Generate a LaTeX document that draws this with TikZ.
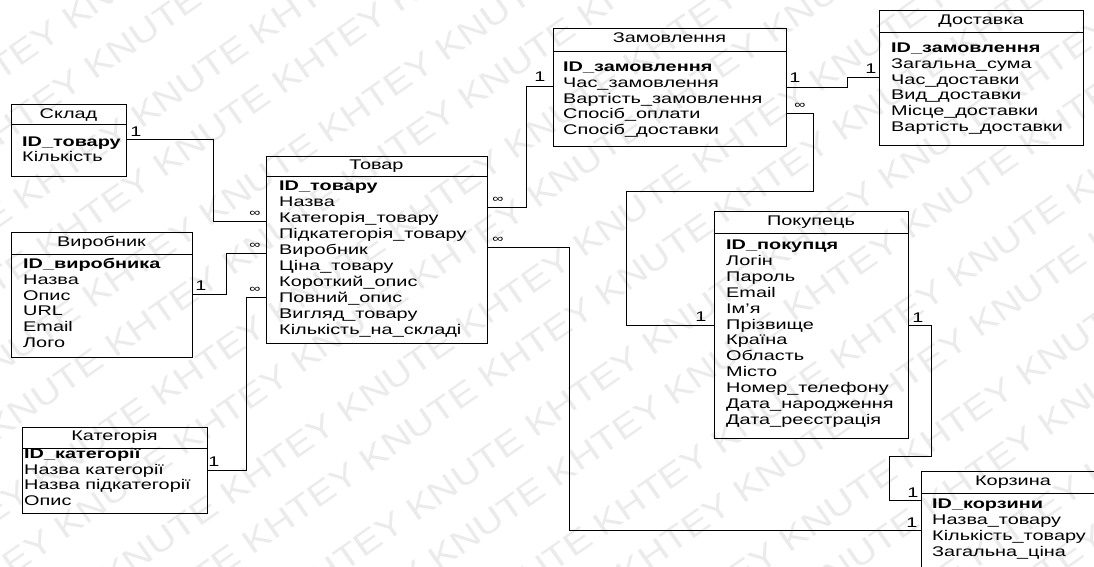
\documentclass[tikz,border=0pt]{standalone}
\usepackage{fontspec}
\setmainfont{Liberation Sans}[FakeStretch=1.42]
\newfontfamily\markfont{Liberation Sans}[FakeStretch=1.2]
\usetikzlibrary{calc}

\newcommand\bodysize{\fontsize{14}{16}\selectfont}

\tikzset{
  ent/.style={draw=black, line width=0.9pt, anchor=north west, inner sep=0pt, outer sep=0pt},
  ttl/.style={inner sep=0pt, text height=10pt, text depth=3pt},
  fld/.style={anchor=west, inner sep=0pt, text height=10pt, text depth=3pt},
  keyfld/.style={fld, font=\bodysize\bfseries},
  card/.style={inner sep=0pt, text height=10pt, text depth=0pt},
  many/.style={inner sep=0pt, font=\fontsize{11}{11}\selectfont},
  link/.style={draw=black, line width=0.9pt},
  wm/.style={text=black!8, font=\markfont\fontsize{33}{33}\selectfont,
             anchor=base west, inner sep=0pt, rotate=35}
}

% table box: name, left x, top y, width, height, title, title offset, separator offset
\newcommand\ertable[8]{%
  \node[ent, minimum width=#4pt, minimum height=#5pt] (#1) at (#2,#3) {};
  \node[ttl] (#1-title) at ($(#1.north)+(0,#7)$) {#6};
  \draw[link] ($(#1.north west)+(0,#8)$) -- ($(#1.north east)+(0,#8)$);
}
% table fields: name, text x, key row y, row step, key field, other fields
\newcommand\erfields[6]{%
  \node[keyfld] (#1-0) at (#2,#3) {#5};
  \foreach \f [count=\i] in {#6} \node[fld] (#1-\i) at (#2,{#3+\i*#4}) {\f};
}

\begin{document}
\begin{tikzpicture}[x=1pt, y=-1pt, font=\bodysize]
\useasboundingbox (0,0) rectangle (1094,567);
\clip (0,0) rectangle (1094,567);

% background watermark, diagonal rows
\foreach \k in {-1,...,20}
  \node[wm] at ({34.4*\k-327.6+12*mod(\k,2)},{49.1*\k+229.6})
    {KHTEY KNUTE KHTEY KNUTE KHTEY KNUTE KHTEY KNUTE KHTEY KNUTE};

% tables
\ertable{sklad}{11}{104}{115}{72}{Склад}{11}{20}
\erfields{sklad}{22}{143}{15}{ID\_товару}{Кількість}

\ertable{vyrobnyk}{11}{232}{181}{125}{Виробник}{11}{22}
\erfields{vyrobnyk}{23}{265}{15.8}{ID\_виробника}{Назва,Опис,URL,Email,Лого}

\ertable{katehoriia}{22}{427}{185}{86}{Категорія}{10}{21}
\erfields{katehoriia}{24}{455}{15.7}{ID\_категорії}{Назва категорії,Назва підкатегорії,Опис}

\ertable{tovar}{266}{156}{221}{187}{Товар}{10}{20}
\erfields{tovar}{279}{187}{16}{ID\_товару}{Назва,Категорія\_товару,Підкатегорія\_товару,Виробник,Ціна\_товару,Короткий\_опис,Повний\_опис,Вигляд\_товару,Кількість\_на\_складі}

\ertable{zamovlennia}{553}{28}{233}{118}{Замовлення}{11}{23}
\erfields{zamovlennia}{563}{68}{15.8}{ID\_замовлення}{Час\_замовлення,Вартість\_замовлення,Спосіб\_оплати,Спосіб\_доставки}

\ertable{dostavka}{879}{10}{204}{135}{Доставка}{11}{22}
\erfields{dostavka}{891}{49}{15.8}{ID\_замовлення}{Загальна\_сума,Час\_доставки,Вид\_доставки,Місце\_доставки,Вартість\_доставки}

\ertable{pokupets}{714}{211}{194}{227}{Покупець}{11}{22}
\erfields{pokupets}{726}{246}{15.9}{ID\_покупця}{Логін,Пароль,Email,Ім’я,Прізвище,Країна,Область,Місто,Номер\_телефону,Дата\_народження,Дата\_реєстрація}

\ertable{korzyna}{921}{471}{184}{130}{Корзина}{11}{22}
\erfields{korzyna}{932}{505}{16}{ID\_корзини}{Назва\_товару,Кількість\_товару,Загальна\_ціна}

% relationships
\draw[link] (sklad.east |- 0,139) -| (213,221) -- (tovar.west |- 0,221);
\node[card] (r1a) at (136,131) {1};
\node[many] (r1b) at (255,214) {∞};

\draw[link] (vyrobnyk.east |- 0,294) -| (226,253) -- (tovar.west |- 0,253);
\node[card] (r2a) at (201,285) {1};
\node[many] (r2b) at (255,246) {∞};

\draw[link] (katehoriia.east |- 0,470) -| (246,297) -- (tovar.west |- 0,297);
\node[card] (r3a) at (214,461) {1};
\node[many] (r3b) at (255,290) {∞};

\draw[link] (tovar.east |- 0,207) -| (526,86) -- (zamovlennia.west |- 0,86);
\node[many] (r4a) at (498,200) {∞};
\node[card] (r4b) at (540,77) {1};

\draw[link] (tovar.east |- 0,247) -| (569,530) -- (korzyna.west |- 0,530);
\node[many] (r5a) at (498,240) {∞};
\node[card] (r5b) at (912,522) {1};

\draw[link] (zamovlennia.east |- 0,87) -| (847,77) -- (dostavka.west |- 0,77);
\node[card] (r6a) at (795,78) {1};
\node[card] (r6b) at (871,69) {1};

\draw[link] (zamovlennia.east |- 0,113) -| (813,191) -| (626,325) -- (pokupets.west |- 0,325);
\node[many] (r7a) at (800,106) {∞};
\node[card] (r7b) at (701,316) {1};

\draw[link] (pokupets.east |- 0,325) -| (931,456) -| (889,500) -- (korzyna.west |- 0,500);
\node[card] (r8a) at (918,317) {1};
\node[card] (r8b) at (913,492) {1};
\end{tikzpicture}
\end{document}
